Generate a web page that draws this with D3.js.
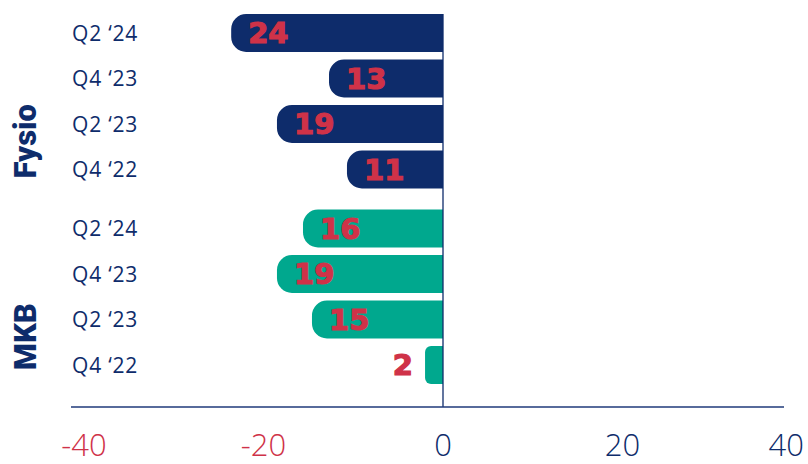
<!DOCTYPE html>
<html>
<head>
<meta charset="utf-8">
<script src="https://cdn.jsdelivr.net/npm/d3@7"></script>
<style>
  body { margin: 0; background: #fff; }
  svg { display: block; }
</style>
</head>
<body>
<svg id="chart"></svg>
<script>
// data (bars go left of zero, labels show the rounded size)
const groups = ["Fysio", "MKB"];
const periods = ["Q2 \u201824", "Q4 \u201823", "Q2 \u201823", "Q4 \u201822"];
const fysioValues = [-23.6, -12.7, -18.5, -10.7];
const mkbValues = [-15.6, -18.5, -14.6, -2.0];
const ticks = [-40, -20, 0, 20, 40];

const width = 808;
const height = 464;
const navy = "#0e2c6b";
const teal = "#00a88e";
const red = "#cf3248";

const rows = [];
groups.forEach(function (g, gi) {
    const vals = gi === 0 ? fysioValues : mkbValues;
    periods.forEach(function (p, i) {
        rows.push({group: g, period: p, value: vals[i]});
    });
});

const svg = d3.select("#chart").attr("width", width).attr("height", height);

const x = d3.scaleLinear().domain([-40, 40]).range([84, 802]);
const yGroup = d3.scaleBand().domain(groups).range([14, 384]).paddingInner(0.1075);
const yRow = d3.scaleBand().domain(periods).range([0, yGroup.bandwidth()]).paddingInner(0.165).paddingOuter(0);

function rowY(d) {
    return yGroup(d.group) + yRow(d.period);
}

// bar with rounded left end, square end on the zero line
function barPath(d) {
    const x0 = x(d.value), x1 = x(0);
    const y0 = rowY(d), h = yRow.bandwidth();
    const r = Math.min(15, (x1 - x0) / 3);
    return "M" + x1 + "," + y0 +
        "H" + (x0 + r) +
        "A" + r + "," + r + " 0 0 0 " + x0 + "," + (y0 + r) +
        "V" + (y0 + h - r) +
        "A" + r + "," + r + " 0 0 0 " + (x0 + r) + "," + (y0 + h) +
        "H" + x1 + "Z";
}

svg.selectAll(".bar")
    .data(rows)
    .enter()
    .append("path")
    .attr("class", "bar")
    .attr("d", barPath)
    .attr("fill", function (d) { return d.group === "Fysio" ? navy : teal; });

// value labels
svg.selectAll(".val")
    .data(rows)
    .enter()
    .append("text")
    .attr("class", "val")
    .attr("x", function (d) {
        const w = x(0) - x(d.value);
        return w > 50 ? x(d.value) + 17 : x(d.value) - 12;
    })
    .attr("y", function (d) { return rowY(d) + yRow.bandwidth() / 2; })
    .attr("dy", "0.36em")
    .attr("text-anchor", function (d) { return x(0) - x(d.value) > 50 ? "start" : "end"; })
    .attr("font-family", "DejaVu Sans")
    .attr("font-weight", "bold")
    .attr("font-size", 29)
    .attr("fill", red)
    .attr("stroke", red)
    .attr("stroke-width", 1.2)
    .text(function (d) { return Math.round(Math.abs(d.value)); });

// period labels
svg.selectAll(".period")
    .data(rows)
    .enter()
    .append("text")
    .attr("class", "period")
    .attr("x", 72)
    .attr("y", function (d) { return rowY(d) + yRow.bandwidth() / 2; })
    .attr("dy", "0.36em")
    .attr("font-family", "Open Sans")
    .attr("font-size", 21)
    .attr("letter-spacing", 0.8)
    .attr("fill", navy)
    .text(function (d) { return d.period; });

// group labels, rotated
svg.selectAll(".group")
    .data(groups)
    .enter()
    .append("text")
    .attr("class", "group")
    .attr("transform", function (g) {
        const cy = yGroup(g) + yGroup.bandwidth() / 2 + 40;
        return "translate(36," + cy + ") rotate(-90)";
    })
    .attr("text-anchor", "middle")
    .attr("font-family", "Roboto")
    .attr("font-weight", 900)
    .attr("font-size", 31)
    .attr("fill", navy)
    .text(function (g) { return g; });

// zero line and baseline
svg.append("line")
    .attr("x1", x(0)).attr("x2", x(0))
    .attr("y1", 14).attr("y2", 407)
    .attr("stroke", navy).attr("stroke-width", 1.3);

svg.append("line")
    .attr("x1", 71).attr("x2", 784)
    .attr("y1", 407).attr("y2", 407)
    .attr("stroke", "#1f3a7a").attr("stroke-width", 1.5);

// tick labels
svg.selectAll(".tick")
    .data(ticks)
    .enter()
    .append("text")
    .attr("class", "tick")
    .attr("x", function (d) { return d === 40 ? 804 : x(d); })
    .attr("y", 456)
    .attr("text-anchor", function (d) { return d === 40 ? "end" : "middle"; })
    .attr("font-family", "Open Sans")
    .attr("font-weight", 300)
    .attr("font-size", 31)
    .attr("fill", function (d) { return d < 0 ? red : navy; })
    .text(function (d) { return d; });
</script>
</body>
</html>
